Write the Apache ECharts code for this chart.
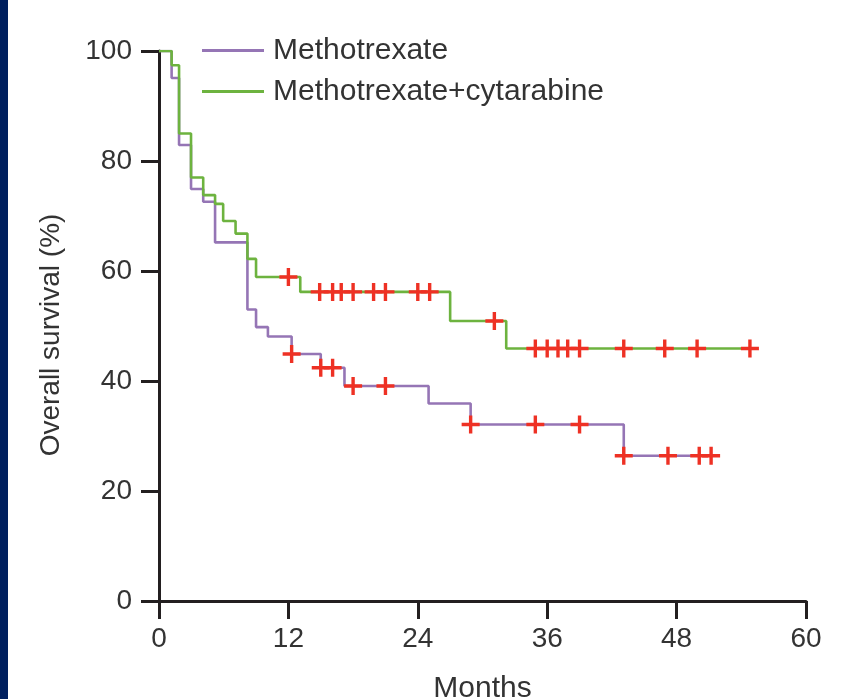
<!DOCTYPE html>
<html>
<head>
<meta charset="utf-8">
<script src="https://cdn.jsdelivr.net/npm/echarts@6/dist/echarts.min.js"></script>
<style>
  html, body { margin: 0; padding: 0; background: #fff; }
  #main { width: 854px; height: 699px; }
</style>
</head>
<body>
<div id="main"></div>
<script>
// Kaplan-Meier steps: [month, overall survival %]
const mtxSteps = [
  [0, 100], [1.17, 95.1], [1.86, 82.9], [2.97, 74.9], [4.1, 72.6], [5.2, 65.2],
  [8.2, 53.0], [9.0, 49.8], [10.1, 48.1], [12.3, 44.9], [15.0, 42.4], [17.2, 39.1],
  [25.0, 35.9], [28.9, 32.1], [43.1, 26.4], [51.2, 26.4]
];
const mtxAraSteps = [
  [0, 100], [1.17, 97.4], [1.86, 85.0], [2.97, 77.0], [4.1, 73.8], [5.2, 72.2],
  [5.95, 69.1], [7.1, 66.8], [8.2, 62.2], [9.0, 58.9], [13.1, 56.2], [27.0, 50.9],
  [32.2, 45.9], [54.8, 45.9]
];
// censored observations
const mtxCensored = [
  [12.3, 44.9], [15.0, 42.4], [16.1, 42.4], [18.0, 39.1], [21.0, 39.1], [28.9, 32.1],
  [34.9, 32.1], [39.0, 32.1], [43.1, 26.4], [47.2, 26.4], [50.1, 26.4], [51.2, 26.4]
];
const mtxAraCensored = [
  [12.0, 58.9], [14.9, 56.2], [16.1, 56.2], [16.9, 56.2], [18.0, 56.2], [19.9, 56.2],
  [21.0, 56.2], [24.0, 56.2], [25.1, 56.2], [31.1, 50.9], [34.9, 45.9], [36.0, 45.9],
  [37.0, 45.9], [37.9, 45.9], [39.0, 45.9], [43.1, 45.9], [46.9, 45.9], [49.9, 45.9],
  [54.8, 45.9]
];
const seriesNames = ['Methotrexate', 'Methotrexate+cytarabine'];

const FONT = "'Liberation Sans', Arial, sans-serif";
const TEXT = '#333333';
const AXIS = '#231f20';
const PURPLE = '#9575b5';
const GREEN = '#6db33f';
const RED = '#ee3124';
// plus sign, arms 18 wide and 3.4 thick
const CROSS = 'path://M7.3,0h3.4v7.3h7.3v3.4h-7.3v7.3h-3.4v-7.3h-7.3v-3.4h7.3z';

const chart = echarts.init(document.getElementById('main'));

const option = {
  animation: false,
  backgroundColor: '#ffffff',
  graphic: [
    { type: 'rect', left: 0, top: 0, shape: { width: 8, height: 699 }, style: { fill: '#00205f' } }
  ],
  grid: { left: 159, right: 48, top: 51, bottom: 98, containLabel: false, outerBoundsMode: 'none' },
  legend: {
    orient: 'vertical',
    left: 202,
    top: 35,
    padding: 0,
    itemWidth: 62,
    itemHeight: 3,
    itemGap: 10,
    icon: 'rect',
    data: seriesNames,
    textStyle: { fontFamily: FONT, fontSize: 30, color: TEXT, lineHeight: 31, padding: [0, 0, 0, 4] }
  },
  xAxis: {
    type: 'value',
    min: 0, max: 60, interval: 12,
    name: 'Months',
    nameLocation: 'middle',
    nameGap: 73,
    nameTextStyle: { fontFamily: FONT, fontSize: 30, color: TEXT, verticalAlign: 'top' },
    axisLine: { show: true, onZero: false, lineStyle: { color: AXIS, width: 3 } },
    axisTick: { show: true, length: 18, lineStyle: { color: AXIS, width: 3 } },
    axisLabel: { fontFamily: FONT, fontSize: 28, color: TEXT, margin: 24 },
    splitLine: { show: false }
  },
  yAxis: {
    type: 'value',
    min: 0, max: 100, interval: 20,
    name: 'Overall survival (%)',
    nameLocation: 'middle',
    nameGap: 94,
    nameTextStyle: { fontFamily: FONT, fontSize: 28, color: TEXT, padding: [0, 18, 0, 0] },
    axisLine: { show: true, onZero: false, lineStyle: { color: AXIS, width: 3 } },
    axisTick: { show: true, length: 18, lineStyle: { color: AXIS, width: 3 } },
    axisLabel: { fontFamily: FONT, fontSize: 28, color: TEXT, margin: 27 },
    splitLine: { show: false }
  },
  series: [
    {
      name: seriesNames[0], type: 'line', step: 'end', data: mtxSteps,
      symbol: 'none', color: PURPLE, lineStyle: { color: PURPLE, width: 2.6 }, z: 2
    },
    {
      name: seriesNames[1], type: 'line', step: 'end', data: mtxAraSteps,
      symbol: 'none', color: GREEN, lineStyle: { color: GREEN, width: 2.6 }, z: 3
    },
    {
      name: 'censored-mtx', type: 'scatter', data: mtxCensored,
      symbol: CROSS, symbolSize: 18, itemStyle: { color: RED, opacity: 1 }, z: 5
    },
    {
      name: 'censored-mtx-ara', type: 'scatter', data: mtxAraCensored,
      symbol: CROSS, symbolSize: 18, itemStyle: { color: RED, opacity: 1 }, z: 5
    }
  ]
};

chart.setOption(option);
</script>
</body>
</html>
